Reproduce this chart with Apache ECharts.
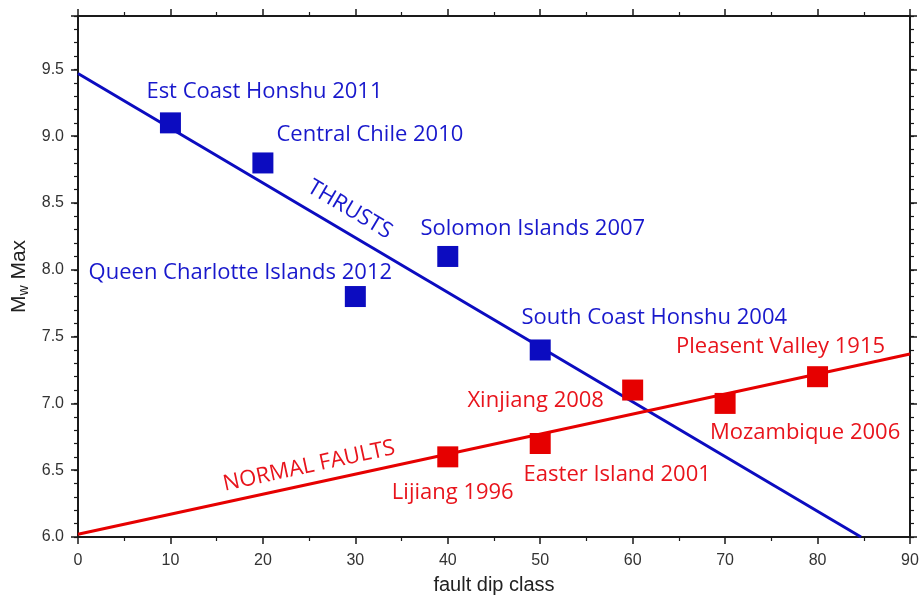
<!DOCTYPE html>
<html>
<head>
<meta charset="utf-8">
<script src="https://cdn.jsdelivr.net/npm/echarts@6/dist/echarts.min.js"></script>
<style>
  html, body { margin: 0; padding: 0; background: #fff; }
  #chart { width: 920px; height: 598px; }
</style>
</head>
<body>
<div id="chart"></div>
<script>
// thrust earthquakes (blue)
const thrustDip = [10, 20, 30, 40, 50];
const thrustMw = [9.1, 8.8, 7.8, 8.1, 7.4];
const thrustNames = ['Est Coast Honshu 2011', 'Central Chile 2010', 'Queen Charlotte Islands 2012',
  'Solomon Islands 2007', 'South Coast Honshu 2004'];

// normal fault earthquakes (red)
const normalDip = [40, 50, 60, 70, 80];
const normalMw = [6.6, 6.7, 7.1, 7.0, 7.2];
const normalNames = ['Lijiang 1996', 'Easter Island 2001', 'Xinjiang 2008', 'Mozambique 2006',
  'Pleasent Valley 1915'];

// fitted trend lines, end points
const thrustFit = [[0, 9.47], [84.7, 6.0]];
const normalFit = [[0, 6.02], [90, 7.37]];

// where the line captions sit (data coords)
const thrustCaption = [29.4, 8.45];
const normalCaption = [25, 6.53];

// label offsets in px, one per point
const thrustOffsets = [[94, -31], [107, -28], [-115, -24], [85, -28], [114, -32]];
const normalOffsets = [[5, 36], [77, 31], [-97, 11], [80, 29], [-37, -30]];

const BLUE = '#0c0cc0';
const BLUE_TXT = '#1818cc';
const RED = '#e60000';
const RED_TXT = '#e8141c';
const FONT = 'Open Sans';
const LABEL_SIZE = 22;

const chart = echarts.init(document.getElementById('chart'));

function points(xs, ys, names, offsets) {
    return xs.map((x, i) => ({
        value: [x, ys[i]],
        name: names[i],
        label: {offset: offsets[i]}
    }));
}

const tickText = {color: '#333', fontSize: 16, fontFamily: 'Liberation Sans'};
const frameLine = {show: true, lineStyle: {color: '#1a1a1a', width: 2}};

const option = {
    backgroundColor: '#fff',
    animation: false,
    grid: {left: 78, right: 10, top: 16, bottom: 61, containLabel: false, outerBoundsMode: 'none'},
    xAxis: [
        {
            type: 'value', position: 'bottom', min: 0, max: 90, interval: 10,
            name: 'fault dip class', nameLocation: 'middle', nameGap: 38,
            nameTextStyle: {color: '#222', fontSize: 20, fontFamily: 'Liberation Sans'},
            axisLine: frameLine,
            axisTick: {show: true, length: 7, lineStyle: {color: '#1a1a1a', width: 1.5}},
            minorTick: {show: true, splitNumber: 2, length: 4, lineStyle: {color: '#1a1a1a', width: 1.2}},
            axisLabel: Object.assign({margin: 16}, tickText),
            splitLine: {show: false}
        },
        {
            type: 'value', position: 'top', min: 0, max: 90, interval: 10,
            axisLine: frameLine,
            axisTick: {show: true, length: 7, lineStyle: {color: '#1a1a1a', width: 1.5}},
            minorTick: {show: true, splitNumber: 2, length: 4, lineStyle: {color: '#1a1a1a', width: 1.2}},
            axisLabel: {show: false},
            splitLine: {show: false}
        }
    ],
    yAxis: [
        {
            type: 'value', position: 'left', min: 6, max: 9.9, interval: 0.5,
            name: '{m|M}{w|w}{m| Max}', nameLocation: 'middle', nameGap: 41,
            nameTextStyle: {
                color: '#222', fontFamily: 'Liberation Sans',
                rich: {
                    m: {fontSize: 21, fontFamily: 'Liberation Sans', color: '#222'},
                    w: {fontSize: 14, fontFamily: 'Liberation Sans', color: '#222', padding: [9, 0, 0, 0]}
                }
            },
            axisLine: frameLine,
            axisTick: {show: true, length: 7, lineStyle: {color: '#1a1a1a', width: 1.5}},
            axisLabel: Object.assign({
                margin: 14,
                formatter: v => (Math.abs(v * 2 - Math.round(v * 2)) < 1e-6 ? v.toFixed(1) : '')
            }, tickText),
            splitLine: {show: false}
        },
        {
            type: 'value', position: 'left', min: 6, max: 9.9, interval: 0.1,
            axisLine: {show: false},
            axisTick: {show: true, length: 4, lineStyle: {color: '#1a1a1a', width: 1.2}},
            axisLabel: {show: false},
            splitLine: {show: false}
        },
        {
            type: 'value', position: 'right', min: 6, max: 9.9, interval: 0.5,
            axisLine: frameLine,
            axisTick: {show: true, length: 7, lineStyle: {color: '#1a1a1a', width: 1.5}},
            axisLabel: {show: false},
            splitLine: {show: false}
        },
        {
            type: 'value', position: 'right', min: 6, max: 9.9, interval: 0.1,
            axisLine: {show: false},
            axisTick: {show: true, length: 4, lineStyle: {color: '#1a1a1a', width: 1.2}},
            axisLabel: {show: false},
            splitLine: {show: false}
        }
    ],
    series: [
        {
            type: 'line', name: 'thrusts fit', data: thrustFit, symbol: 'none', clip: true,
            lineStyle: {color: BLUE, width: 3}, z: 2,
            markPoint: {
                symbol: 'circle', symbolSize: 0,
                data: [{coord: thrustCaption, value: 'THRUSTS'}],
                label: {
                    show: true, formatter: 'THRUSTS', color: BLUE_TXT, fontSize: LABEL_SIZE,
                    fontFamily: FONT, rotate: -30.6, position: 'inside'
                }
            }
        },
        {
            type: 'line', name: 'normal fit', data: normalFit, symbol: 'none', clip: true,
            lineStyle: {color: RED, width: 3}, z: 2,
            markPoint: {
                symbol: 'circle', symbolSize: 0,
                data: [{coord: normalCaption, value: 'NORMAL FAULTS'}],
                label: {
                    show: true, formatter: 'NORMAL FAULTS', color: RED_TXT, fontSize: LABEL_SIZE,
                    fontFamily: FONT, rotate: 12.2, position: 'inside'
                }
            }
        },
        {
            type: 'scatter', name: 'thrusts', symbol: 'rect', symbolSize: 21, z: 3,
            itemStyle: {color: BLUE, opacity: 1},
            data: points(thrustDip, thrustMw, thrustNames, thrustOffsets),
            label: {
                show: true, position: 'inside', formatter: p => p.name,
                color: BLUE_TXT, fontSize: LABEL_SIZE, fontFamily: FONT
            }
        },
        {
            type: 'scatter', name: 'normal', symbol: 'rect', symbolSize: 21, z: 3,
            itemStyle: {color: RED, opacity: 1},
            data: points(normalDip, normalMw, normalNames, normalOffsets),
            label: {
                show: true, position: 'inside', formatter: p => p.name,
                color: RED_TXT, fontSize: LABEL_SIZE, fontFamily: FONT
            }
        }
    ]
};

chart.setOption(option);
</script>
</body>
</html>
